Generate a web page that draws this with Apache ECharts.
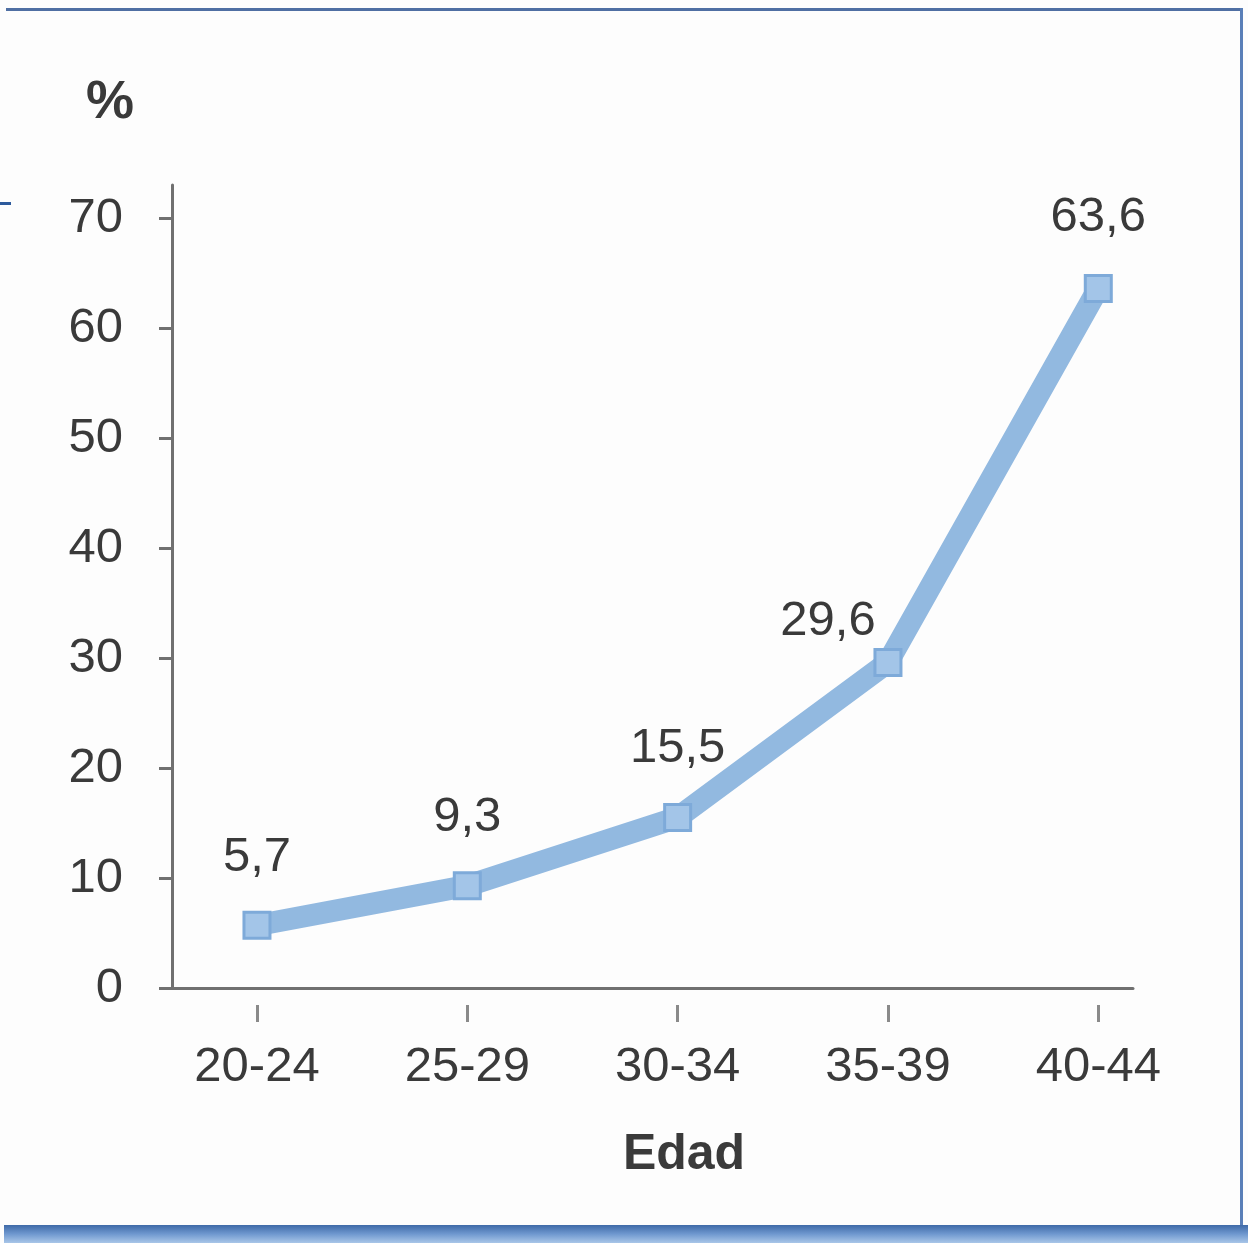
<!DOCTYPE html>
<html>
<head>
<meta charset="utf-8">
<script src="https://cdn.jsdelivr.net/npm/echarts@6/dist/echarts.min.js"></script>
<style>
  html, body { margin: 0; padding: 0; background: #fdfdfd; }
  #chart { width: 1248px; height: 1243px; }
</style>
</head>
<body>
<div id="chart"></div>
<script>
// Age groups and the percentage for each group
const categories = ['20-24', '25-29', '30-34', '35-39', '40-44'];
const percentValues = [5.7, 9.3, 15.5, 29.6, 63.6];
const yTicks = [0, 10, 20, 30, 40, 50, 60, 70];

const FONT = "'Liberation Sans', Arial, sans-serif";
const TEXT = '#3a3a3a';
const AXIS = '#707070';
const idx = categories.map((c, i) => i);

// per-point label shifts (the 35-39 label sits to the left of its point)
const labelShift = [[0, 3], [0, 3], [0, 2], [-60, 30], [0, 0]];

const seriesData = percentValues.map((v, i) => ({
  value: [i, v],
  label: { offset: labelShift[i] }
}));

const chart = echarts.init(document.getElementById('chart'), null, { renderer: 'canvas' });
chart.setOption({
  backgroundColor: '#fdfdfd',
  animation: false,
  grid: { left: 172, right: 115, top: 185, bottom: 255, containLabel: false },
  xAxis: [{
    type: 'value',
    min: -0.404,
    max: 4.165,
    position: 'bottom',
    axisLine: { show: true, onZero: false, lineStyle: { color: AXIS, width: 3 } },
    axisTick: { show: false },
    splitLine: { show: false },
    axisLabel: {
      customValues: idx,
      formatter: v => categories[Math.round(v)],
      margin: 55,
      fontFamily: FONT, fontSize: 49, color: TEXT
    },
    name: 'Edad',
    nameLocation: 'middle',
    nameGap: 142,
    nameTextStyle: { fontFamily: FONT, fontSize: 50, fontWeight: 'bold', color: TEXT, padding: [0, 0, 0, 63] }
  }, {
    type: 'value',
    min: -0.404,
    max: 4.165,
    position: 'bottom',
    offset: 17,
    axisLine: { show: false, onZero: false },
    axisTick: { show: true, customValues: idx, length: 17, lineStyle: { color: '#8a8a8a', width: 3 } },
    axisLabel: { show: false },
    splitLine: { show: false }
  }],
  yAxis: {
    type: 'value',
    min: 0,
    max: 73,
    axisLine: { show: true, onZero: false, lineStyle: { color: AXIS, width: 3 } },
    axisTick: { show: true, customValues: yTicks, length: 13, lineStyle: { color: AXIS, width: 3 } },
    splitLine: { show: false },
    axisLabel: {
      customValues: yTicks,
      margin: 49,
      fontFamily: FONT, fontSize: 49, color: TEXT
    },
    name: '%',
    nameLocation: 'end',
    nameGap: 55,
    nameTextStyle: { fontFamily: FONT, fontSize: 54, fontWeight: 'bold', color: TEXT, padding: [0, 124, 0, 0] }
  },
  series: [{
    type: 'line',
    data: seriesData,
    lineStyle: { color: '#92b9e0', width: 22, cap: 'butt', join: 'miter' },
    symbol: 'rect',
    symbolSize: 26,
    itemStyle: { color: '#a3c5e8', borderColor: '#7eaad9', borderWidth: 3 },
    label: {
      show: true,
      position: 'top',
      distance: 32,
      formatter: p => String(p.value[1]).replace('.', ','),
      fontFamily: FONT, fontSize: 49, color: TEXT
    },
    z: 3
  }],
  graphic: [
    // frame: top rule, right rule, small left rule, bottom band
    { type: 'rect', shape: { x: 6, y: 8, width: 1236, height: 3 }, style: { fill: '#4f6fa3' }, silent: true },
    { type: 'rect', shape: { x: 1240, y: 8, width: 3, height: 1220 }, style: { fill: '#5a7fb8' }, silent: true },
    { type: 'rect', shape: { x: 0, y: 202, width: 11, height: 3 }, style: { fill: '#2d5a9c' }, silent: true },
    {
      type: 'rect', shape: { x: 4, y: 1225, width: 1244, height: 18 }, silent: true,
      style: {
        fill: new echarts.graphic.LinearGradient(0, 0, 0, 1, [
          { offset: 0, color: '#3f6aa8' }, { offset: 0.5, color: '#6f98cf' }, { offset: 1, color: '#a9c6e8' }
        ])
      }
    }
  ]
});
</script>
</body>
</html>
